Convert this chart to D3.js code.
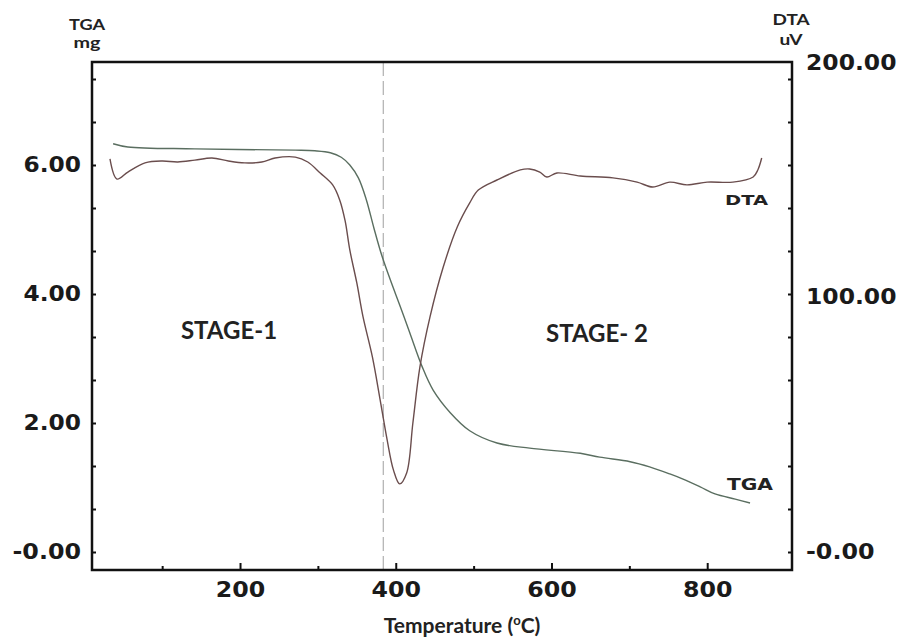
<!DOCTYPE html>
<html>
<head>
<meta charset="utf-8">
<script src="https://cdn.jsdelivr.net/npm/d3@7"></script>
<style>
  body { margin: 0; background: #fff; }
  svg { display: block; }
</style>
</head>
<body>
<div id="chart"></div>
<script>
// TGA curve (mass, mg)
const tgaTemp = [37, 56, 142, 271, 296, 316, 330, 341, 352, 362, 372, 382, 393, 406, 418, 434, 448, 470, 495, 530, 572, 637, 662, 701, 726, 752, 769, 791, 810, 836, 855];
const tgaMass = [6.33, 6.28, 6.25, 6.23, 6.22, 6.19, 6.12, 6.0, 5.8, 5.47, 5.02, 4.60, 4.22, 3.80, 3.40, 2.87, 2.51, 2.16, 1.88, 1.69, 1.61, 1.53, 1.47, 1.40, 1.32, 1.21, 1.13, 1.01, 0.90, 0.82, 0.76];

// DTA curve (signal, uV)
const dtaTemp = [33, 42, 56, 78, 100, 120, 142, 164, 185, 206, 228, 245, 271, 287, 303, 319, 328, 335, 341, 350, 358, 370, 380, 389, 397, 405, 414, 422, 431, 444, 461, 479, 495, 506, 530, 560, 572, 585, 594, 607, 637, 679, 710, 730, 752, 774, 800, 833, 859, 865, 870];
const dtaSignal = [159.0, 150.4, 153.4, 157.3, 158.1, 157.7, 158.5, 159.4, 158.1, 157.3, 157.7, 159.4, 159.8, 157.7, 153.0, 147.9, 141.5, 132.5, 120.1, 106.0, 92.2, 76.5, 59.6, 43.9, 32.2, 26.7, 31.0, 50.6, 72.5, 92.2, 112.8, 129.9, 140.2, 145.7, 150.0, 154.3, 154.7, 153.4, 151.3, 153.0, 151.7, 150.9, 149.1, 147.0, 149.1, 147.9, 149.1, 149.1, 151.3, 154.3, 159.4];

// axis ticks
const tempMajor = [200, 400, 600, 800];
const tempMinor = [100, 300, 500, 700];
const massTicks = d3.range(0, 12).map(i => i * 2 / 3);
const massLabels = [0, 2, 4, 6];
const dtaLabels = [0, 100, 200];
const stageLine = 384;

const W = 905, H = 642;
const L = 92, R = 792, T = 62, B = 570;

const svg = d3.select("#chart").append("svg")
  .attr("width", W).attr("height", H);

const x = d3.scaleLinear().domain([9.9, 908.9]).range([L, R]);
const yL = d3.scaleLinear().domain([0, 6]).range([552, 165]);
const yR = d3.scaleLinear().domain([0, 100, 200]).range([552, 297, 63]);

const numFont = "'DejaVu Sans', Verdana, sans-serif";
const txtFont = "Lato, 'Open Sans', sans-serif";
const fmt = d => d === 0 ? "-0.00" : d.toFixed(2);
const labLen = s => s.replace(/[0-9]/g, "d").split("").reduce((a, c) => a + (c === "d" ? 16.5 : c === "." ? 8 : 11), 0);

// stage divider
svg.append("line")
  .attr("x1", x(stageLine)).attr("x2", x(stageLine))
  .attr("y1", T).attr("y2", B)
  .attr("stroke", "#b0b0b0").attr("stroke-width", 1.2)
  .attr("stroke-dasharray", "14,5");

// curves
const tgaData = tgaTemp.map((t, i) => [t, tgaMass[i]]);
const dtaData = dtaTemp.map((t, i) => [t, dtaSignal[i]]);

svg.append("path")
  .datum(tgaData)
  .attr("fill", "none")
  .attr("stroke", "#5a6e60")
  .attr("stroke-width", 1.4)
  .attr("d", d3.line().x(d => x(d[0])).y(d => yL(d[1])).curve(d3.curveCatmullRom.alpha(0.5)));

svg.append("path")
  .datum(dtaData)
  .attr("fill", "none")
  .attr("stroke", "#6a4d4d")
  .attr("stroke-width", 1.4)
  .attr("d", d3.line().x(d => x(d[0])).y(d => yR(d[1])).curve(d3.curveCatmullRom.alpha(0.5)));

// x axis
const xAx = svg.append("g").attr("transform", `translate(0,${B})`)
  .call(d3.axisBottom(x).tickValues(tempMajor).tickSize(-7).tickPadding(12).tickFormat(d3.format("d")));
xAx.select(".domain").remove();
xAx.selectAll("line").attr("stroke", "#111").attr("stroke-width", 2);
xAx.selectAll("text")
  .attr("font-family", numFont).attr("font-weight", "bold").attr("font-size", 21)
  .attr("fill", "#1a1a1a")
  .attr("textLength", d => labLen(String(d))).attr("lengthAdjust", "spacingAndGlyphs");

const xMin = svg.append("g").attr("transform", `translate(0,${B})`)
  .call(d3.axisBottom(x).tickValues(tempMinor).tickSize(-4).tickFormat(""));
xMin.select(".domain").remove();
xMin.selectAll("line").attr("stroke", "#111").attr("stroke-width", 2);

// left axis
const lAx = svg.append("g").attr("transform", `translate(${L},0)`)
  .call(d3.axisLeft(yL).tickValues(massTicks).tickSize(-4).tickPadding(11)
    .tickFormat(d => massLabels.some(m => Math.abs(m - d) < 1e-6) ? fmt(Math.round(d)) : ""));
lAx.select(".domain").remove();
lAx.selectAll("line").attr("stroke", "#111").attr("stroke-width", 2);
lAx.selectAll("text")
  .attr("font-family", numFont).attr("font-weight", "bold").attr("font-size", 21)
  .attr("fill", "#1a1a1a")
  .each(function () {
    const s = d3.select(this).text();
    if (s) d3.select(this).attr("textLength", labLen(s)).attr("lengthAdjust", "spacingAndGlyphs");
  });

// right axis (ticks share left spacing, labels from DTA scale)
const rTicks = svg.append("g").attr("transform", `translate(${R},0)`)
  .call(d3.axisRight(yL).tickValues(massTicks).tickSize(-4).tickFormat(""));
rTicks.select(".domain").remove();
rTicks.selectAll("line").attr("stroke", "#111").attr("stroke-width", 2);

const rAx = svg.append("g").attr("transform", `translate(${R},0)`)
  .call(d3.axisRight(yR).tickValues(dtaLabels).tickSize(0).tickPadding(14).tickFormat(fmt));
rAx.select(".domain").remove();
rAx.selectAll("text")
  .attr("font-family", numFont).attr("font-weight", "bold").attr("font-size", 21)
  .attr("fill", "#1a1a1a")
  .attr("textLength", d => labLen(fmt(d))).attr("lengthAdjust", "spacingAndGlyphs");

// frame
svg.append("rect")
  .attr("x", L).attr("y", T).attr("width", R - L).attr("height", B - T)
  .attr("fill", "none").attr("stroke", "#111").attr("stroke-width", 2.5);

// axis titles
const title = (txt, cx, by, len) => svg.append("text")
  .attr("x", cx).attr("y", by).attr("text-anchor", "middle")
  .attr("font-family", txtFont).attr("font-weight", "bold").attr("font-size", 16)
  .attr("fill", "#222")
  .attr("textLength", len).attr("lengthAdjust", "spacingAndGlyphs")
  .text(txt);

title("TGA", 87, 30, 36);
title("mg", 87, 48, 27);
title("DTA", 791, 25, 37);
title("uV", 791, 45, 23);

const xt = svg.append("text")
  .attr("x", 462).attr("y", 633).attr("text-anchor", "middle")
  .attr("font-family", txtFont).attr("font-weight", "bold").attr("font-size", 21)
  .attr("fill", "#222");
xt.append("tspan").text("Temperature (");
xt.append("tspan").attr("font-size", 13).attr("dy", -8).text("o");
xt.append("tspan").attr("dy", 8).text("C)");

// stage labels
svg.append("text").attr("x", 229).attr("y", 339).attr("text-anchor", "middle")
  .attr("font-family", txtFont).attr("font-weight", "bold").attr("font-size", 24)
  .attr("fill", "#222").text("STAGE-1");
svg.append("text").attr("x", 597).attr("y", 342).attr("text-anchor", "middle")
  .attr("font-family", txtFont).attr("font-weight", "bold").attr("font-size", 24)
  .attr("fill", "#222").text("STAGE- 2");

// curve labels
svg.append("text").attr("x", 725).attr("y", 205)
  .attr("font-family", numFont).attr("font-weight", "bold").attr("font-size", 14)
  .attr("fill", "#222").attr("textLength", 43).attr("lengthAdjust", "spacingAndGlyphs").text("DTA");
svg.append("text").attr("x", 727).attr("y", 490)
  .attr("font-family", numFont).attr("font-weight", "bold").attr("font-size", 16)
  .attr("fill", "#222").attr("textLength", 46).attr("lengthAdjust", "spacingAndGlyphs").text("TGA");
</script>
</body>
</html>
